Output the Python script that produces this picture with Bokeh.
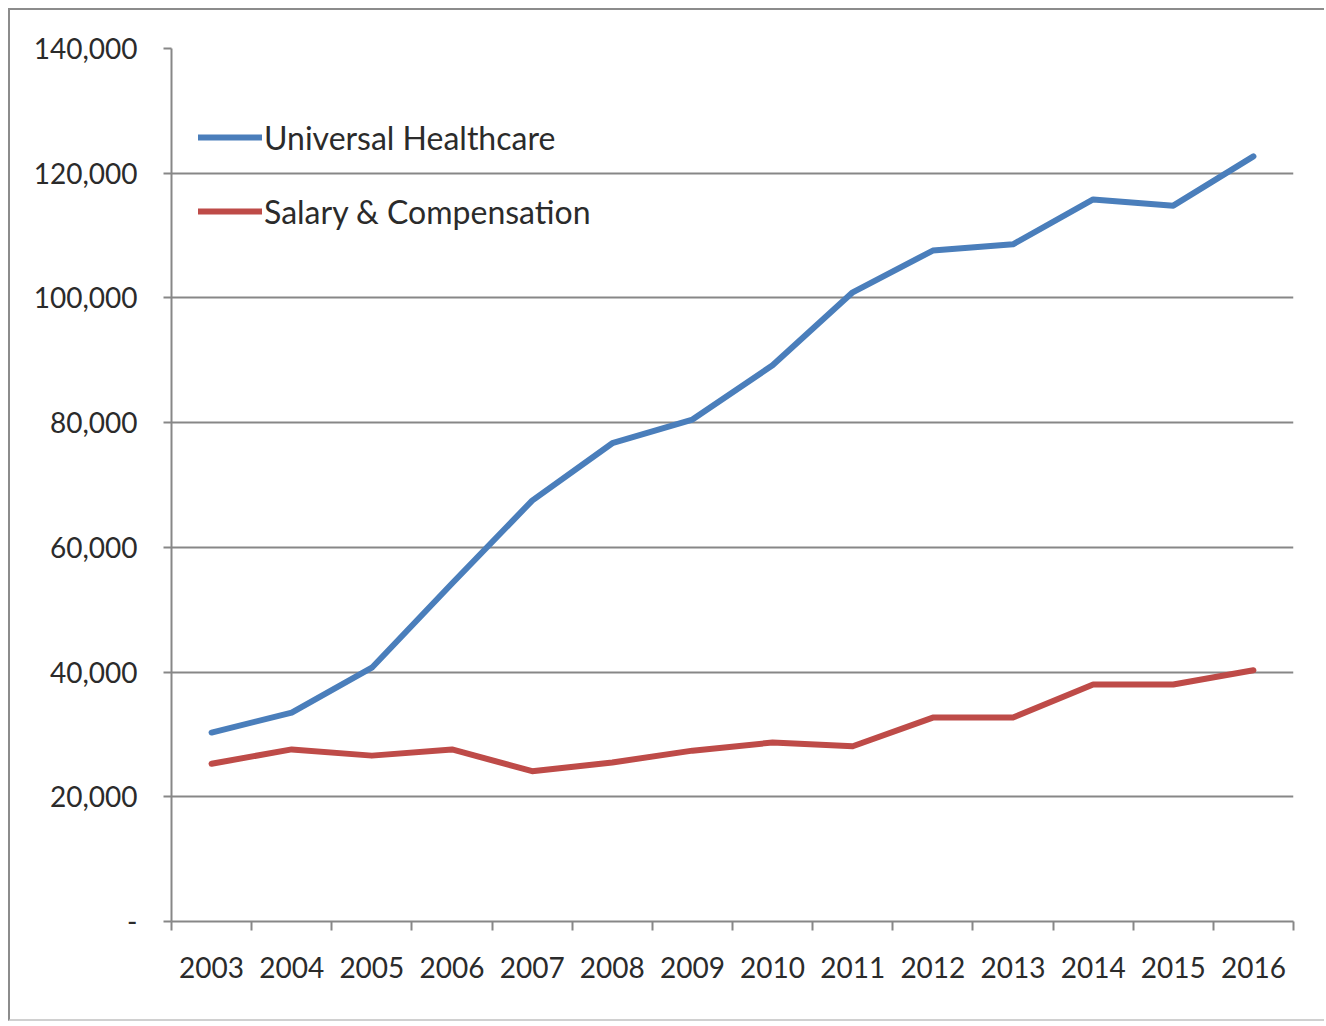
from bokeh.plotting import figure
from bokeh.models import Range1d, FixedTicker, NumeralTickFormatter, Legend, LegendItem
from bokeh.embed import file_html
from bokeh.resources import INLINE

years = ["2003", "2004", "2005", "2006", "2007", "2008", "2009",
         "2010", "2011", "2012", "2013", "2014", "2015", "2016"]
universal_healthcare = [30300, 33500, 40700, 54200, 67500, 76700, 80500,
                        89200, 100900, 107600, 108600, 115800, 114800, 122700]
salary_compensation = [25300, 27600, 26600, 27600, 24100, 25500, 27400,
                       28700, 28100, 32700, 32700, 38000, 38000, 40300]
y_ticks = [0, 20000, 40000, 60000, 80000, 100000, 120000, 140000]
series_names = ["Universal Healthcare", "Salary & Compensation"]

n = len(years)
xs = [i + 0.5 for i in range(n)]

FONT = "Lato"
GRID = "#878787"
TEXT = "#2b2b2b"
BLUE = "#4A7EBB"
RED = "#BE4B48"

p = figure(width=1316, height=1013, output_backend="svg", toolbar_location=None,
           x_range=Range1d(0, n), y_range=Range1d(y_ticks[0], y_ticks[-1]),
           min_border_left=161, min_border_right=33, min_border_top=38,
           min_border_bottom=102)
p.outline_line_color = None
p.background_fill_color = "white"
p.border_fill_color = "white"
p.styles = {"margin-left": "8px", "margin-top": "8px",
            "border-left": "2px solid #8c8c8c", "border-top": "2px solid #8c8c8c",
            "border-bottom": "2px solid #d0d0d0"}

# y axis
p.yaxis.ticker = FixedTicker(ticks=y_ticks)
p.yaxis.formatter = NumeralTickFormatter(format="0,0")
p.yaxis.major_label_overrides = {0: "-"}
p.yaxis.axis_line_color = GRID
p.yaxis.axis_line_width = 2
p.yaxis.major_tick_line_color = GRID
p.yaxis.major_tick_line_width = 2
p.yaxis.major_tick_out = 8
p.yaxis.major_tick_in = 0
p.yaxis.minor_tick_line_color = None
p.yaxis.major_label_standoff = 26
p.yaxis.major_label_text_font = FONT
p.yaxis.major_label_text_font_size = "28px"
p.yaxis.major_label_text_color = TEXT

# x axis: labels centred in categories, ticks on boundaries
p.xaxis.ticker = FixedTicker(ticks=xs, minor_ticks=list(range(n + 1)))
p.xaxis.major_label_overrides = {x: y for x, y in zip(xs, years)}
p.xaxis.axis_line_color = GRID
p.xaxis.axis_line_width = 2
p.xaxis.major_tick_line_color = None
p.xaxis.major_tick_out = 0
p.xaxis.major_tick_in = 0
p.xaxis.minor_tick_line_color = GRID
p.xaxis.minor_tick_line_width = 2
p.xaxis.minor_tick_out = 9
p.xaxis.minor_tick_in = 0
p.xaxis.major_label_standoff = 26
p.xaxis.major_label_text_font = FONT
p.xaxis.major_label_text_font_size = "28px"
p.xaxis.major_label_text_color = TEXT

p.xgrid.grid_line_color = None
p.ygrid.grid_line_color = GRID
p.ygrid.grid_line_width = 2

r1 = p.line(xs, universal_healthcare, line_color=BLUE, line_width=6,
            line_cap="round", line_join="round")
r2 = p.line(xs, salary_compensation, line_color=RED, line_width=6,
            line_cap="round", line_join="round")

legend = Legend(items=[LegendItem(label=series_names[0], renderers=[r1]),
                       LegendItem(label=series_names[1], renderers=[r2])],
                location=(27, 690), orientation="vertical",
                glyph_width=64, glyph_height=40, label_height=40,
                label_standoff=2, spacing=34, padding=0, margin=0,
                border_line_color=None, background_fill_alpha=0,
                label_text_font=FONT, label_text_font_size="32px",
                label_text_color=TEXT)
p.add_layout(legend)

open("out.html", "w").write(file_html(p, INLINE))
